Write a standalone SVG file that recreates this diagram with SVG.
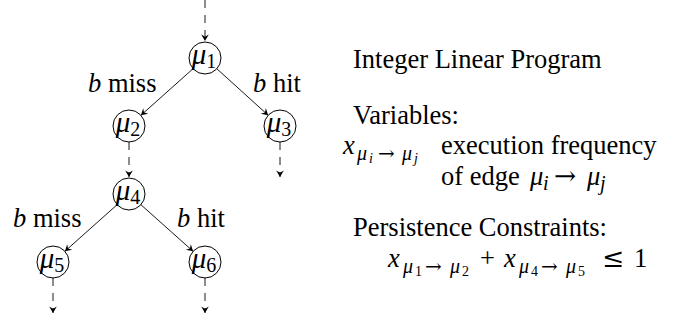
<svg xmlns="http://www.w3.org/2000/svg" width="685" height="326" viewBox="0 0 685 326">
<style>
  .t { font-family: 'Liberation Serif', serif; font-size: 26.5px; fill: #000; }
  .sym { font-family: 'DejaVu Serif', serif; }
  .it { font-style: italic; }
  .nl { font-size: 29px; }
  .sub { font-size: 20px; }
  .ssub { font-size: 14px; }
  .node circle { fill: #fff; stroke: #000; stroke-width: 1; }
  .edge { stroke: #000; stroke-width: 0.9; fill: none; }
  .dash { stroke-dasharray: 8 7; }
</style>
<defs>
  <marker id="arr" markerUnits="userSpaceOnUse" markerWidth="12" markerHeight="12" viewBox="-8 -6 10 12" refX="0" refY="0" orient="auto">
    <path d="M0,0 L-6.5,-3.8 L-4.2,0 L-6.5,3.8 Z" fill="#000"/>
  </marker>
</defs>

<g id="connectors">
  <line class="edge dash" x1="205" y1="0" x2="205" y2="41" marker-end="url(#arr)"/>
  <line class="edge" x1="193.1" y1="68.7" x2="140.9" y2="115.3" marker-end="url(#arr)"/>
  <line class="edge" x1="216.9" y1="68.8" x2="268.1" y2="115.2" marker-end="url(#arr)"/>
  <line class="edge dash" x1="129" y1="142" x2="129" y2="177" marker-end="url(#arr)"/>
  <line class="edge dash" x1="280" y1="142" x2="280" y2="177" marker-end="url(#arr)"/>
  <line class="edge" x1="117.1" y1="204.7" x2="64.9" y2="251.3" marker-end="url(#arr)"/>
  <line class="edge" x1="140.9" y1="204.7" x2="193.1" y2="251.3" marker-end="url(#arr)"/>
  <line class="edge dash" x1="53" y1="278" x2="53" y2="313" marker-end="url(#arr)"/>
  <line class="edge dash" x1="205" y1="278" x2="205" y2="313" marker-end="url(#arr)"/>
  <text class="t" x="88" y="92"><tspan class="it">b</tspan> miss</text>
  <text class="t" x="253" y="92"><tspan class="it">b</tspan> hit</text>
  <text class="t" x="13" y="227"><tspan class="it">b</tspan> miss</text>
  <text class="t" x="177" y="227"><tspan class="it">b</tspan> hit</text>
</g>

<g id="mu1" class="node">
  <circle cx="205" cy="58" r="16"/>
  <text class="t" x="204" y="64" text-anchor="middle"><tspan class="it nl">μ</tspan><tspan class="sub" dy="4">1</tspan></text>
</g>
<g id="mu2" class="node">
  <circle cx="129" cy="126" r="16"/>
  <text class="t" x="128" y="132" text-anchor="middle"><tspan class="it nl">μ</tspan><tspan class="sub" dy="4">2</tspan></text>
</g>
<g id="mu3" class="node">
  <circle cx="280" cy="126" r="16"/>
  <text class="t" x="279" y="132" text-anchor="middle"><tspan class="it nl">μ</tspan><tspan class="sub" dy="4">3</tspan></text>
</g>
<g id="mu4" class="node">
  <circle cx="129" cy="194" r="16"/>
  <text class="t" x="128" y="200" text-anchor="middle"><tspan class="it nl">μ</tspan><tspan class="sub" dy="4">4</tspan></text>
</g>
<g id="mu5" class="node">
  <circle cx="53" cy="262" r="16"/>
  <text class="t" x="52" y="268" text-anchor="middle"><tspan class="it nl">μ</tspan><tspan class="sub" dy="4">5</tspan></text>
</g>
<g id="mu6" class="node">
  <circle cx="205" cy="262" r="16"/>
  <text class="t" x="204" y="268" text-anchor="middle"><tspan class="it nl">μ</tspan><tspan class="sub" dy="4">6</tspan></text>
</g>

<g id="ilp">
  <text class="t" x="353" y="68">Integer Linear Program</text>
  <text class="t" x="353" y="124">Variables:</text>
  <text class="t" y="154"><tspan class="it" x="343">x</tspan><tspan class="it sub" x="357" dy="6">μ</tspan><tspan class="it ssub" x="369" dy="3">i</tspan><tspan class="sub sym" x="378" dy="-3">→</tspan><tspan class="it sub" x="402">μ</tspan><tspan class="it ssub" x="414" dy="3">j</tspan></text>
  <text class="t" x="441" y="154">execution frequency</text>
  <text class="t" y="185"><tspan x="441">of edge </tspan><tspan class="it" x="530">μ</tspan><tspan class="it sub" x="543" dy="5">i</tspan><tspan class="sym" x="554" dy="-5">→</tspan><tspan class="it" x="587">μ</tspan><tspan class="it sub" x="600" dy="5">j</tspan></text>
  <text class="t" x="353" y="236">Persistence Constraints:</text>
  <text class="t" y="267"><tspan class="it" x="388">x</tspan><tspan class="it sub" x="403" dy="6">μ</tspan><tspan class="ssub" x="415" dy="3">1</tspan><tspan class="sub sym" x="425" dy="-3">→</tspan><tspan class="it sub" x="450">μ</tspan><tspan class="ssub" x="462" dy="3">2</tspan><tspan x="480" dy="-9">+</tspan><tspan class="it" x="504">x</tspan><tspan class="it sub" x="519" dy="6">μ</tspan><tspan class="ssub" x="531" dy="3">4</tspan><tspan class="sub sym" x="541" dy="-3">→</tspan><tspan class="it sub" x="566">μ</tspan><tspan class="ssub" x="578" dy="3">5</tspan><tspan class="sym" x="602" dy="-9">≤</tspan><tspan x="634">1</tspan></text>
</g>
</svg>
